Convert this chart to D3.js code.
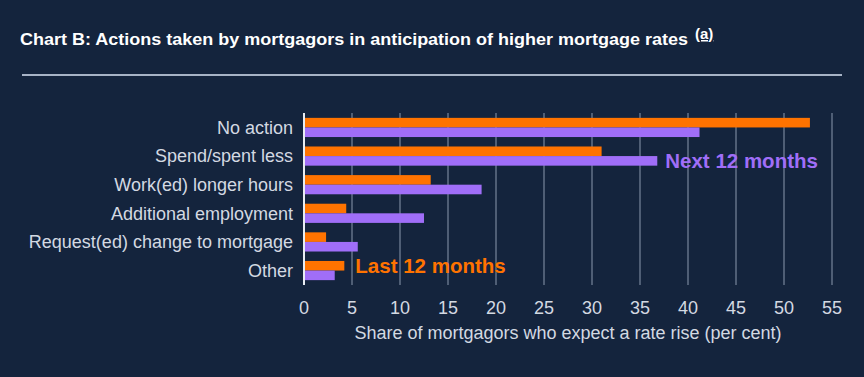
<!DOCTYPE html>
<html lang="en">
<head>
    <meta charset="UTF-8">
    <script src="https://d3js.org/d3.v7.min.js"></script>
    <style>
        body { margin: 0; background: #14243d; }
        svg { display: block; font-family: "Liberation Sans", Arial, sans-serif; }
    </style>
</head>
<body>
    <div id="chart"></div>
    <script>
        // data
        const categories = ["No action", "Spend/spent less", "Work(ed) longer hours",
            "Additional employment", "Request(ed) change to mortgage", "Other"];
        const last12 = [52.7, 31.0, 13.2, 4.4, 2.3, 4.2];
        const next12 = [41.2, 36.8, 18.5, 12.5, 5.6, 3.2];
        const xTicks = [0, 5, 10, 15, 20, 25, 30, 35, 40, 45, 50, 55];

        const W = 864, H = 377;
        const svg = d3.select("#chart").append("svg")
            .attr("width", W).attr("height", H);

        svg.append("rect").attr("width", W).attr("height", H).attr("fill", "#14243d");

        // title
        const title = svg.append("text")
            .attr("x", 20).attr("y", 45)
            .attr("fill", "#ffffff")
            .attr("font-weight", "bold")
            .attr("font-size", "17px");
        title.append("tspan")
            .attr("textLength", 668).attr("lengthAdjust", "spacingAndGlyphs")
            .text("Chart B: Actions taken by mortgagors in anticipation of higher mortgage rates");
        svg.append("text")
            .attr("x", 695).attr("y", 39)
            .attr("fill", "#ffffff")
            .attr("font-weight", "bold")
            .attr("font-size", "15px")
            .attr("text-decoration", "underline")
            .text("(a)");

        svg.append("line")
            .attr("x1", 22).attr("x2", 842).attr("y1", 75).attr("y2", 75)
            .attr("stroke", "#a7b3c6").attr("stroke-width", 2);

        // scales
        const x = d3.scaleLinear().domain([0, 55]).range([304, 832]);
        const y = d3.scaleBand().domain(categories).range([113, 285])
            .paddingInner(0.33).paddingOuter(0.17);
        const sub = d3.scaleBand().domain(["last", "next"]).range([0, y.bandwidth()]);

        // grid
        svg.append("g").selectAll("line")
            .data(xTicks.slice(1))
            .join("line")
            .attr("x1", d => x(d)).attr("x2", d => x(d))
            .attr("y1", 113).attr("y2", 285)
            .attr("stroke", "#8a98ae").attr("stroke-width", 1);

        // bars
        const rows = categories.map((c, i) => ({ c, last: last12[i], next: next12[i] }));
        const g = svg.append("g");
        g.selectAll(".bar-last").data(rows).join("rect")
            .attr("x", x(0))
            .attr("y", d => y(d.c) + sub("last"))
            .attr("width", d => x(d.last) - x(0))
            .attr("height", sub.bandwidth())
            .attr("fill", "#ff7300");
        g.selectAll(".bar-next").data(rows).join("rect")
            .attr("x", x(0))
            .attr("y", d => y(d.c) + sub("next"))
            .attr("width", d => x(d.next) - x(0))
            .attr("height", sub.bandwidth())
            .attr("fill", "#a06ef8");

        // y axis line + labels
        svg.append("line")
            .attr("x1", x(0)).attr("x2", x(0)).attr("y1", 113).attr("y2", 285)
            .attr("stroke", "#e8ecf2").attr("stroke-width", 2);
        svg.append("g").selectAll("text")
            .data(categories)
            .join("text")
            .attr("x", 293)
            .attr("y", d => y(d) + y.bandwidth() / 2)
            .attr("dy", "0.35em")
            .attr("text-anchor", "end")
            .attr("fill", "#d3d9e2")
            .attr("font-size", "18px")
            .text(d => d);

        // x tick labels
        svg.append("g").selectAll("text")
            .data(xTicks)
            .join("text")
            .attr("x", d => x(d))
            .attr("y", 314)
            .attr("text-anchor", "middle")
            .attr("fill", "#d3d9e2")
            .attr("font-size", "18px")
            .text(d => d);

        svg.append("text")
            .attr("x", 568).attr("y", 339)
            .attr("text-anchor", "middle")
            .attr("fill", "#d3d9e2")
            .attr("font-size", "18px")
            .text("Share of mortgagors who expect a rate rise (per cent)");

        // series labels
        svg.append("text")
            .attr("x", x(next12[1]) + 8)
            .attr("y", y(categories[1]) + sub("next") + sub.bandwidth() / 2)
            .attr("dy", "0.35em")
            .attr("fill", "#a06ef8")
            .attr("font-weight", "bold")
            .attr("font-size", "20.5px")
            .text("Next 12 months");
        svg.append("text")
            .attr("x", x(last12[5]) + 11)
            .attr("y", y(categories[5]) + sub("last") + sub.bandwidth() / 2)
            .attr("dy", "0.35em")
            .attr("fill", "#ff7300")
            .attr("font-weight", "bold")
            .attr("font-size", "20.5px")
            .text("Last 12 months");
    </script>
</body>
</html>
